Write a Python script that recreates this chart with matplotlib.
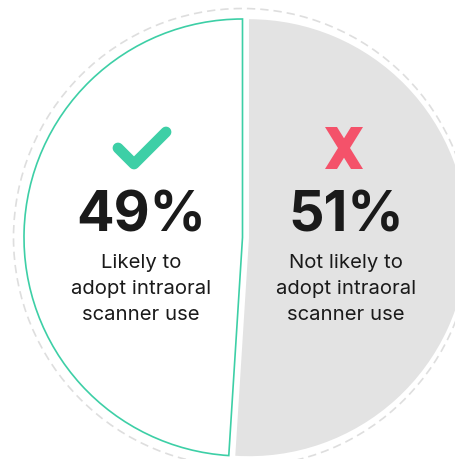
import matplotlib
matplotlib.use("Agg")
import matplotlib.pyplot as plt
from matplotlib.patches import Circle, Polygon
from matplotlib.lines import Line2D

# Data
categories = ["Likely to\nadopt intraoral\nscanner use", "Not likely to\nadopt intraoral\nscanner use"]
values = [49, 51]
pct_labels = ["49%", "51%"]

W, H = 455, 460
fig = plt.figure(figsize=(W / 100, H / 100), dpi=100)
ax = fig.add_axes([0, 0, 1, 1])

cx, cy, r = 242.5, 460 - 238.5, 218.5
teal = "#3DCFA6"
gray = "#E3E3E3"
red = "#F4526A"

wedges, _ = ax.pie(values, colors=["white", gray], startangle=90, counterclock=True,
                   center=(cx, cy), radius=r, explode=[0, 6.5],
                   wedgeprops=dict(linewidth=1.2, edgecolor=teal))
wedges[1].set_edgecolor("none")

# dashed outer ring
ax.add_patch(Circle((cx, cy), 229, fill=False, edgecolor="#DEDEDE", lw=1.2,
                    linestyle=(0, (5, 3)), zorder=0))

ax.set_xlim(0, W)
ax.set_ylim(0, H)
ax.set_aspect("equal")
ax.axis("off")

def py(y):
    return H - y

# check mark
ax.add_line(Line2D([118, 134, 166], [py(149), py(165), py(133)], color=teal, lw=7.8,
                   solid_capstyle="round", solid_joinstyle="round"))

# X mark
ax.add_patch(Polygon([(325, py(128)), (337, py(128)), (363, py(170)), (351, py(170))],
                     closed=True, facecolor=red, edgecolor="none"))
ax.add_patch(Polygon([(351, py(128)), (363, py(128)), (337, py(170)), (325, py(170))],
                     closed=True, facecolor=red, edgecolor="none"))

font = ["Inter", "DejaVu Sans"]
xs = [141, 346]
for x, p, lab in zip(xs, pct_labels, categories):
    ax.text(x, py(232), p, ha="center", va="baseline", fontsize=40, fontweight="bold",
            family=font, color="#1A1A1A")
    for i, line in enumerate(lab.split("\n")):
        ax.text(x, py(268 + 26 * i), line, ha="center", va="baseline", fontsize=14.6,
                family=font, color="#1A1A1A")

fig.savefig("out.png", dpi=100)
